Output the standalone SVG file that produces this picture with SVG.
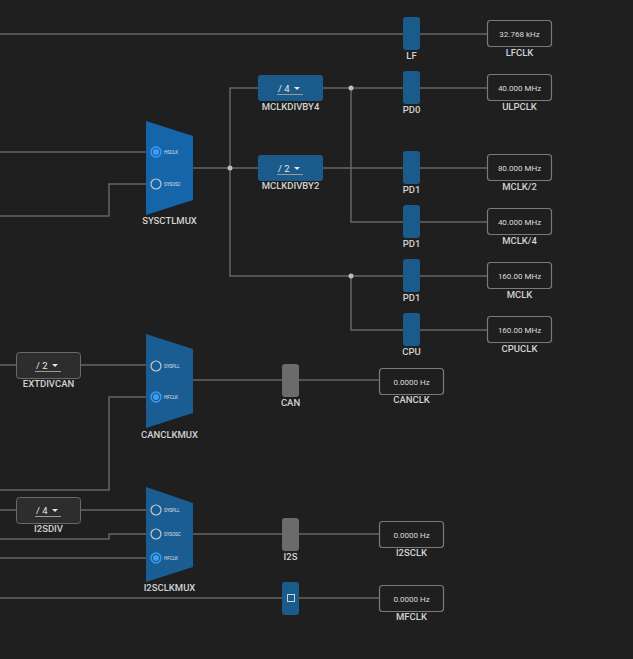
<svg xmlns="http://www.w3.org/2000/svg" width="633" height="659" viewBox="0 0 633 659">
<defs>
<style>
.bg{fill:#1f1f1f}
.w{fill:none;stroke:#666;stroke-width:1.5}
.dot{fill:#bdbdbd}
.gate{fill:#1b5b8b}
.gate.off{fill:#6b6b6b}
.box{fill:#1f1f1f;stroke:#7a7a7a;stroke-width:1.2}
.val{font-family:Roboto,"Liberation Sans",sans-serif;font-size:8px;fill:#dcdcdc;text-anchor:middle}
.lbl{font-family:Roboto,"Liberation Sans",sans-serif;font-size:9.5px;font-weight:500;fill:#d2d2d2;text-anchor:middle}
.mux{fill:#1a5d92}
.mux.sys{fill:#1565aa}
.rad{fill:none;stroke:#c8c8c8;stroke-width:1.2}
.rsel{fill:none;stroke:#3f9cf5;stroke-width:1.4}
.rdot{fill:#3f9cf5}
.rt{font-family:Roboto,"Liberation Sans",sans-serif;font-size:4.5px;fill:#e0e0e0}
.div{fill:#1b5b8b}
.div2{fill:#2d2d2d;stroke:#6a6a6a;stroke-width:1}
.dt{font-family:Roboto,"Liberation Sans",sans-serif;font-size:9.5px;fill:#e6e6e6}
.ul{stroke:#9a9a9a;stroke-width:1}
.tri{fill:#e6e6e6}
</style>
</defs>
<rect class="bg" x="0" y="0" width="633" height="659"/>
<g id="connectors">
<path class="w" d="M0 34H403M420 34H487"/>
<path class="w" d="M0 152H146M0 216H109V184H146"/>
<path class="w" d="M193 168H258M230 168V88H258M230 168V276H403"/>
<path class="w" d="M323 88H403M351 88V222H403M323 168H403M351 276V330H403"/>
<path class="w" d="M420 88H487M420 168H487M420 222H487M420 276H487M420 330H487"/>
<path class="w" d="M0 365H16M80 365H146M0 490H109V397H146M193 380H282M299 380H379"/>
<path class="w" d="M0 510H16M80 510H146M0 539H109V534H146M0 558H146M193 534H282M299 534H379"/>
<path class="w" d="M0 598H282M299 598H379"/>
<circle class="dot" cx="230" cy="168" r="2.5"/>
<circle class="dot" cx="351" cy="88" r="2.5"/>
<circle class="dot" cx="351" cy="276" r="2.5"/>
</g>
<g id="LF"><rect class="gate" x="403" y="17" width="17" height="33" rx="3"/><text class="lbl" x="411.5" y="59">LF</text></g>
<g id="LFCLK"><rect class="box" x="487.5" y="20.5" width="64" height="26" rx="3"/><text class="val" x="519.5" y="36.5">32.768 kHz</text><text class="lbl" x="519.5" y="56">LFCLK</text></g>
<g id="PD0"><rect class="gate" x="403" y="71" width="17" height="33" rx="3"/><text class="lbl" x="411.5" y="113">PD0</text></g>
<g id="ULPCLK"><rect class="box" x="487.5" y="74.5" width="64" height="26" rx="3"/><text class="val" x="519.5" y="90.5">40.000 MHz</text><text class="lbl" x="519.5" y="110">ULPCLK</text></g>
<g id="PD1a"><rect class="gate" x="403" y="151" width="17" height="33" rx="3"/><text class="lbl" x="411.5" y="193">PD1</text></g>
<g id="MCLK2"><rect class="box" x="487.5" y="154.5" width="64" height="26" rx="3"/><text class="val" x="519.5" y="170.5">80.000 MHz</text><text class="lbl" x="519.5" y="190">MCLK/2</text></g>
<g id="PD1b"><rect class="gate" x="403" y="205" width="17" height="33" rx="3"/><text class="lbl" x="411.5" y="247">PD1</text></g>
<g id="MCLK4"><rect class="box" x="487.5" y="208.5" width="64" height="26" rx="3"/><text class="val" x="519.5" y="224.5">40.000 MHz</text><text class="lbl" x="519.5" y="244">MCLK/4</text></g>
<g id="PD1c"><rect class="gate" x="403" y="259" width="17" height="33" rx="3"/><text class="lbl" x="411.5" y="301">PD1</text></g>
<g id="MCLK"><rect class="box" x="487.5" y="262.5" width="64" height="26" rx="3"/><text class="val" x="519.5" y="278.5">160.00 MHz</text><text class="lbl" x="519.5" y="298">MCLK</text></g>
<g id="CPU"><rect class="gate" x="403" y="313" width="17" height="33" rx="3"/><text class="lbl" x="411.5" y="355">CPU</text></g>
<g id="CPUCLK"><rect class="box" x="487.5" y="316.5" width="64" height="26" rx="3"/><text class="val" x="519.5" y="332.5">160.00 MHz</text><text class="lbl" x="519.5" y="352">CPUCLK</text></g>
<g id="SYSCTLMUX">
<polygon class="mux sys" points="146,121 193,136 193,200 146,215"/>
<circle class="rsel" cx="156" cy="152" r="5"/><circle class="rdot" cx="156" cy="152" r="3"/>
<text class="rt" x="164" y="153.5">HSCLK</text>
<circle class="rad" cx="156" cy="184" r="5"/>
<text class="rt" x="164" y="185.5">SYSOSC</text>
<text class="lbl" x="169.5" y="224">SYSCTLMUX</text>
</g>
<g id="MCLKDIVBY4">
<rect class="div" x="258" y="75" width="65" height="26" rx="3"/>
<text class="dt" x="278" y="91.5">/ 4</text><polygon class="tri" points="294,87 300,87 297,90"/><line class="ul" x1="277" y1="94.5" x2="303" y2="94.5"/>
<text class="lbl" x="290.5" y="110">MCLKDIVBY4</text>
</g>
<g id="MCLKDIVBY2">
<rect class="div" x="258" y="155" width="65" height="26" rx="3"/>
<text class="dt" x="278" y="171.5">/ 2</text><polygon class="tri" points="294,167 300,167 297,170"/><line class="ul" x1="277" y1="174.5" x2="303" y2="174.5"/>
<text class="lbl" x="290.5" y="189">MCLKDIVBY2</text>
</g>
<g id="EXTDIVCAN">
<rect class="div2" x="16.5" y="352.5" width="64" height="26" rx="3"/>
<text class="dt" x="36" y="368.5">/ 2</text><polygon class="tri" points="52,364 58,364 55,367"/><line class="ul" x1="35" y1="371.5" x2="61" y2="371.5"/>
<text class="lbl" x="48.5" y="387">EXTDIVCAN</text>
</g>
<g id="CANCLKMUX">
<polygon class="mux" points="146,334 193,349 193,413 146,428"/>
<circle class="rad" cx="156" cy="366" r="5"/>
<text class="rt" x="164" y="367.5">SYSPLL</text>
<circle class="rsel" cx="156" cy="397" r="5"/><circle class="rdot" cx="156" cy="397" r="3"/>
<text class="rt" x="164" y="398.5">HFCLK</text>
<text class="lbl" x="169.5" y="438">CANCLKMUX</text>
</g>
<g id="CAN"><rect class="gate off" x="282" y="364" width="17" height="33" rx="3"/><text class="lbl" x="290.5" y="406">CAN</text></g>
<g id="CANCLK"><rect class="box" x="379.5" y="368.5" width="64" height="26" rx="3"/><text class="val" x="411.5" y="384.5">0.0000 Hz</text><text class="lbl" x="411.5" y="403">CANCLK</text></g>
<g id="I2SDIV">
<rect class="div2" x="16.5" y="497.5" width="64" height="26" rx="3"/>
<text class="dt" x="36" y="513.5">/ 4</text><polygon class="tri" points="52,509 58,509 55,512"/><line class="ul" x1="35" y1="516.5" x2="61" y2="516.5"/>
<text class="lbl" x="48.5" y="532">I2SDIV</text>
</g>
<g id="I2SCLKMUX">
<polygon class="mux" points="146,487 193,503 193,567 146,582"/>
<circle class="rad" cx="156" cy="510" r="5"/>
<text class="rt" x="164" y="511.5">SYSPLL</text>
<circle class="rad" cx="156" cy="534" r="5"/>
<text class="rt" x="164" y="535.5">SYSOSC</text>
<circle class="rsel" cx="156" cy="558" r="5"/><circle class="rdot" cx="156" cy="558" r="3"/>
<text class="rt" x="164" y="559.5">HFCLK</text>
<text class="lbl" x="169.5" y="591">I2SCLKMUX</text>
</g>
<g id="I2S"><rect class="gate off" x="282" y="518" width="17" height="33" rx="3"/><text class="lbl" x="290.5" y="560">I2S</text></g>
<g id="I2SCLK"><rect class="box" x="379.5" y="521.5" width="64" height="26" rx="3"/><text class="val" x="411.5" y="537.5">0.0000 Hz</text><text class="lbl" x="411.5" y="556">I2SCLK</text></g>
<g id="MFGATE"><rect class="gate" x="282" y="582" width="17" height="33" rx="3"/><rect x="287.5" y="594.5" width="7" height="7" fill="none" stroke="#d0d0d0" stroke-width="1"/></g>
<g id="MFCLK"><rect class="box" x="379.5" y="585.5" width="64" height="26" rx="3"/><text class="val" x="411.5" y="601.5">0.0000 Hz</text><text class="lbl" x="411.5" y="620">MFCLK</text></g>
</svg>
